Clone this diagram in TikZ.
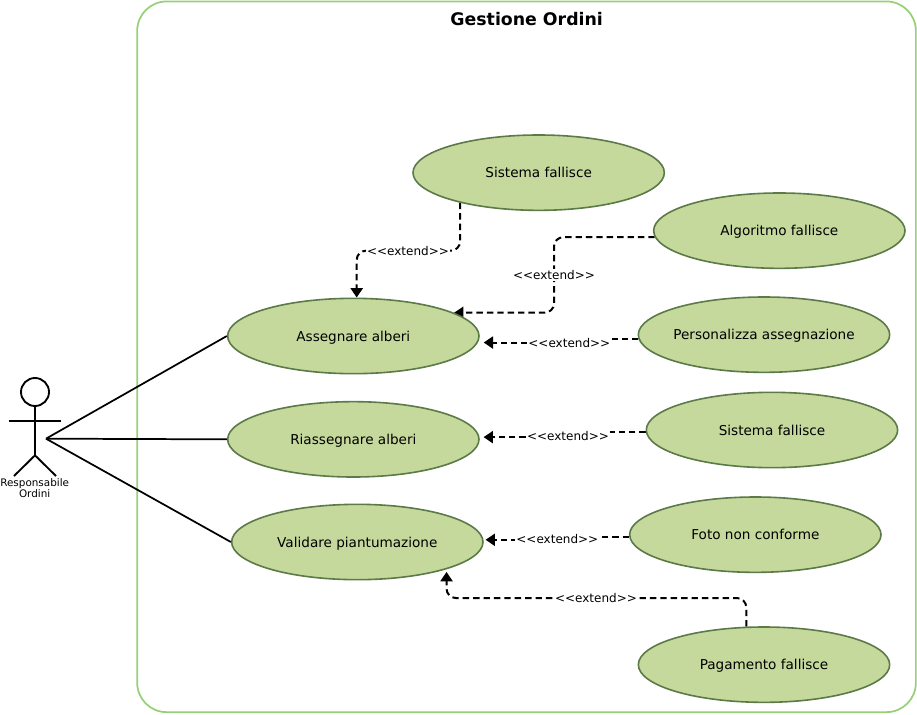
\documentclass[tikz,border=0pt]{standalone}
\usepackage{fontspec}
\setmainfont{DejaVu Sans}
\usetikzlibrary{arrows.meta,positioning,shapes.geometric,backgrounds}
\definecolor{frameGreen}{HTML}{97D077}
\definecolor{caseFill}{HTML}{C5D99C}
\definecolor{caseLine}{HTML}{5B7A47}
\newcommand{\extendtext}{<{}<extend>{}>}
\begin{document}
\begin{tikzpicture}[x=1pt,y=-1pt,
    font=\fontsize{10.2pt}{12pt}\selectfont,
    >={Triangle[length=7pt,width=9pt]},
    usecase/.style = {ellipse, draw=caseLine, fill=caseFill, line width=1.2pt,
                      minimum width=188.5pt, minimum height=56.5pt, inner ysep=0pt, inner xsep=-6pt,
                      text height=7.5pt, text depth=0pt},
    extarrow/.style = {->, dash pattern=on 4.8pt off 3pt, line width=1.5pt},
    bendarrow/.style = {extarrow, rounded corners=7pt},
    extlabel/.style = {fill=white, inner sep=1pt, font=\fontsize{9pt}{11pt}\selectfont},
    assoc/.style = {line width=1.3pt},
    actorline/.style = {line width=1.4pt},
]
\useasboundingbox (0,0) rectangle (687.75,535.5);
% system frame
\node (frame) [draw=frameGreen, line width=1.3pt, rounded corners=22pt, minimum width=584pt, minimum height=533pt, inner sep=0pt] at (394.9,267.6) {};
\node (title) at (395,14.5) {\fontsize{13pt}{15pt}\selectfont\bfseries Gestione Ordini};

% use cases
\node (sistema1) [usecase] at (404,129.5) {Sistema fallisce};
\node (algoritmo) [usecase] at (584.5,173) {Algoritmo fallisce};
\node (assegnare) [usecase] at (265,252) {Assegnare alberi};
\node (personalizza) [usecase] at (573,251) {Personalizza assegnazione};
\node (riassegnare) [usecase] at (265,329.5) {Riassegnare alberi};
\node (sistema2) [usecase] at (579,322.5) {Sistema fallisce};
\node (validare) [usecase] at (268,406.5) {Validare piantumazione};
\node (foto) [usecase] at (566.5,401) {Foto non conforme};
\node (pagamento) [usecase] at (573,498.5) {Pagamento fallisce};

% actor
\node (head) [circle, draw, actorline, minimum size=21pt, inner sep=0pt] at (26.25,294) {};
\coordinate (hip) at (26.25,341.5);
\coordinate (armL) at (7,316);
\coordinate (armR) at (45.7,316);
\coordinate (footL) at (10.5,357);
\coordinate (footR) at (42,357);
\coordinate (hand) at (34.5,329);
\draw[actorline] (head) -- (hip);
\draw[actorline] (armL) -- (armR);
\draw[actorline] (footL) -- (hip) -- (footR);
\node (actor) [align=center, font=\fontsize{7.8pt}{7.5pt}\selectfont] at (26,366) {Responsabile\\Ordini};

% associations
\foreach \a in {assegnare,riassegnare,validare}
  \draw[assoc] (hand) -- (\a.west);

% extend labels
\node (l1) [extlabel] at (306,188) {\extendtext};
\node (l2) [extlabel] at (415.5,206.5) {\extendtext};
\node (l3) [extlabel] at (427,257) {\extendtext};
\node (l4) [extlabel] at (426,327) {\extendtext};
\node (l5) [extlabel] at (418,404) {\extendtext};
\node (l6) [extlabel] at (447,448.5) {\extendtext};

% extend arrows
\begin{scope}[on background layer]
  \draw[bendarrow] (sistema1.201) |- (l1.center) -| (assegnare.85);
  \draw[bendarrow] (algoritmo.183) -| (l2.center) |- (assegnare.13.5);
  \draw[extarrow, shorten >=4.3pt] (personalizza.182) -| (l3.center) |- (assegnare.357);
  \draw[extarrow, shorten >=3pt] (sistema2.181) -| (l4.center) |- (riassegnare.1.5);
  \draw[extarrow, shorten >=1.5pt] (foto.181) -| (l5.center) |- (validare.1.5);
  \draw[bendarrow, shorten >=2pt] (pagamento.115) |- (l6.center) -| (validare.-17);
\end{scope}
\end{tikzpicture}
\end{document}
